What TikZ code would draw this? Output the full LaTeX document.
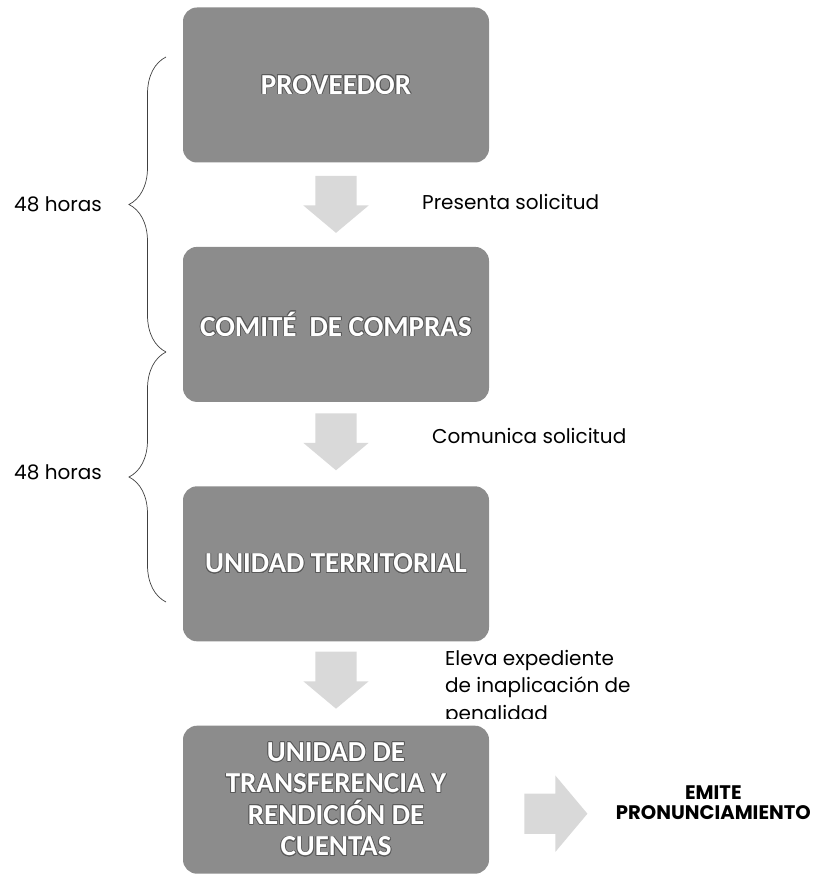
\documentclass[tikz,border=0pt]{standalone}
\usepackage{fontspec}
\setmainfont{Poppins}
\newfontfamily\cajafont{Carlito}
\usepackage[copies]{contour}
\contourlength{0.8pt}
\usetikzlibrary{positioning,calc,shapes.arrows,decorations.pathreplacing}

\newcommand{\blanco}[1]{\contour{black!65}{#1}}

\tikzset{
	etapa/.style={rectangle, rounded corners=14pt, fill=black!45, text=white, align=center,
		minimum width=306pt, minimum height=155pt, inner sep=0pt,
		font=\cajafont\bfseries\fontsize{29}{31.5}\selectfont},
	bajada/.style={single arrow, draw=none, fill=black!15, minimum height=57pt,
		inner xsep=0pt, inner ysep=20.5pt, single arrow head extend=12pt,
		single arrow tip angle=100, rotate=-90},
	derecha/.style={single arrow, draw=none, fill=black!15, minimum height=63pt,
		inner xsep=0pt, inner ysep=20pt, single arrow head extend=18pt,
		single arrow tip angle=100},
	paso/.style={inner sep=0pt, font=\fontsize{20}{27.5}\selectfont, align=left},
	horas/.style={inner sep=0pt, font=\fontsize{20}{22}\selectfont},
	llave/.style={decorate, decoration={brace, amplitude=37pt}, black!75, line width=0.7pt},
}

\begin{document}
\begin{tikzpicture}[x=1pt, y=-1pt, node distance=84pt]
	\useasboundingbox (0,0) rectangle (824,877);

	% etapas
	\node[etapa] (prov) at (336,85) {\blanco{PROVEEDOR}};
	\node[etapa, below=of prov] (comite) {\blanco{COMITÉ~ DE COMPRAS}};
	\node[etapa, below=of comite] (unidad) {\blanco{UNIDAD TERRITORIAL}};
	\node[etapa, below=of unidad, minimum height=148pt] (utrc) {\blanco{UNIDAD DE}\\
		\blanco{TRANSFERENCIA Y}\\ \blanco{RENDICIÓN DE}\\ \blanco{CUENTAS}};

	% flechas
	\node[bajada] (f1) at ($(prov.south)!0.5!(comite.north)+(0,-9)$) {};
	\node[bajada] (f2) at ($(comite.south)!0.5!(unidad.north)+(0,-11)$) {};
	\node[bajada] (f3) at ($(unidad.south)!0.5!(utrc.north)+(0,-12)$) {};
	\node[derecha, right=35pt of utrc, yshift=-14pt] (f4) {};

	% acciones
	\node[paso, right=86pt of f1.center, yshift=-6pt] (t1) {Presenta solicitud};
	\node[paso, right=96pt of f2.center, yshift=-3pt] (t2) {Comunica solicitud};
	\begin{scope}
		\clip (440,640) rectangle (720,718);
		\node[paso, right=109pt of f3.center, yshift=-16pt] (t3) {Eleva expediente\\de inaplicación de\\penalidad};
	\end{scope}
	\node[right=28pt of f4, yshift=11pt, inner sep=0pt, align=center,
		font=\bfseries\fontsize{19.6}{19.5}\selectfont] (emite) {EMITE\\PRONUNCIAMIENTO};

	% plazos
	\coordinate (l1a) at (166,352);
	\coordinate (l1b) at (166,57);
	\coordinate (l2a) at (166,602);
	\coordinate (l2b) at (166,352);
	\draw[llave] (l1a) -- (l1b);
	\draw[llave] (l2a) -- (l2b);
	\coordinate (p1) at ($(l1a)!0.5!(l1b)+(-37,0)$);
	\coordinate (p2) at ($(l2a)!0.5!(l2b)+(-37,0)$);
	\node[horas, left=27pt of p1] (h1) {48 horas};
	\node[horas, left=27pt of p2, yshift=5pt] (h2) {48 horas};
\end{tikzpicture}
\end{document}
